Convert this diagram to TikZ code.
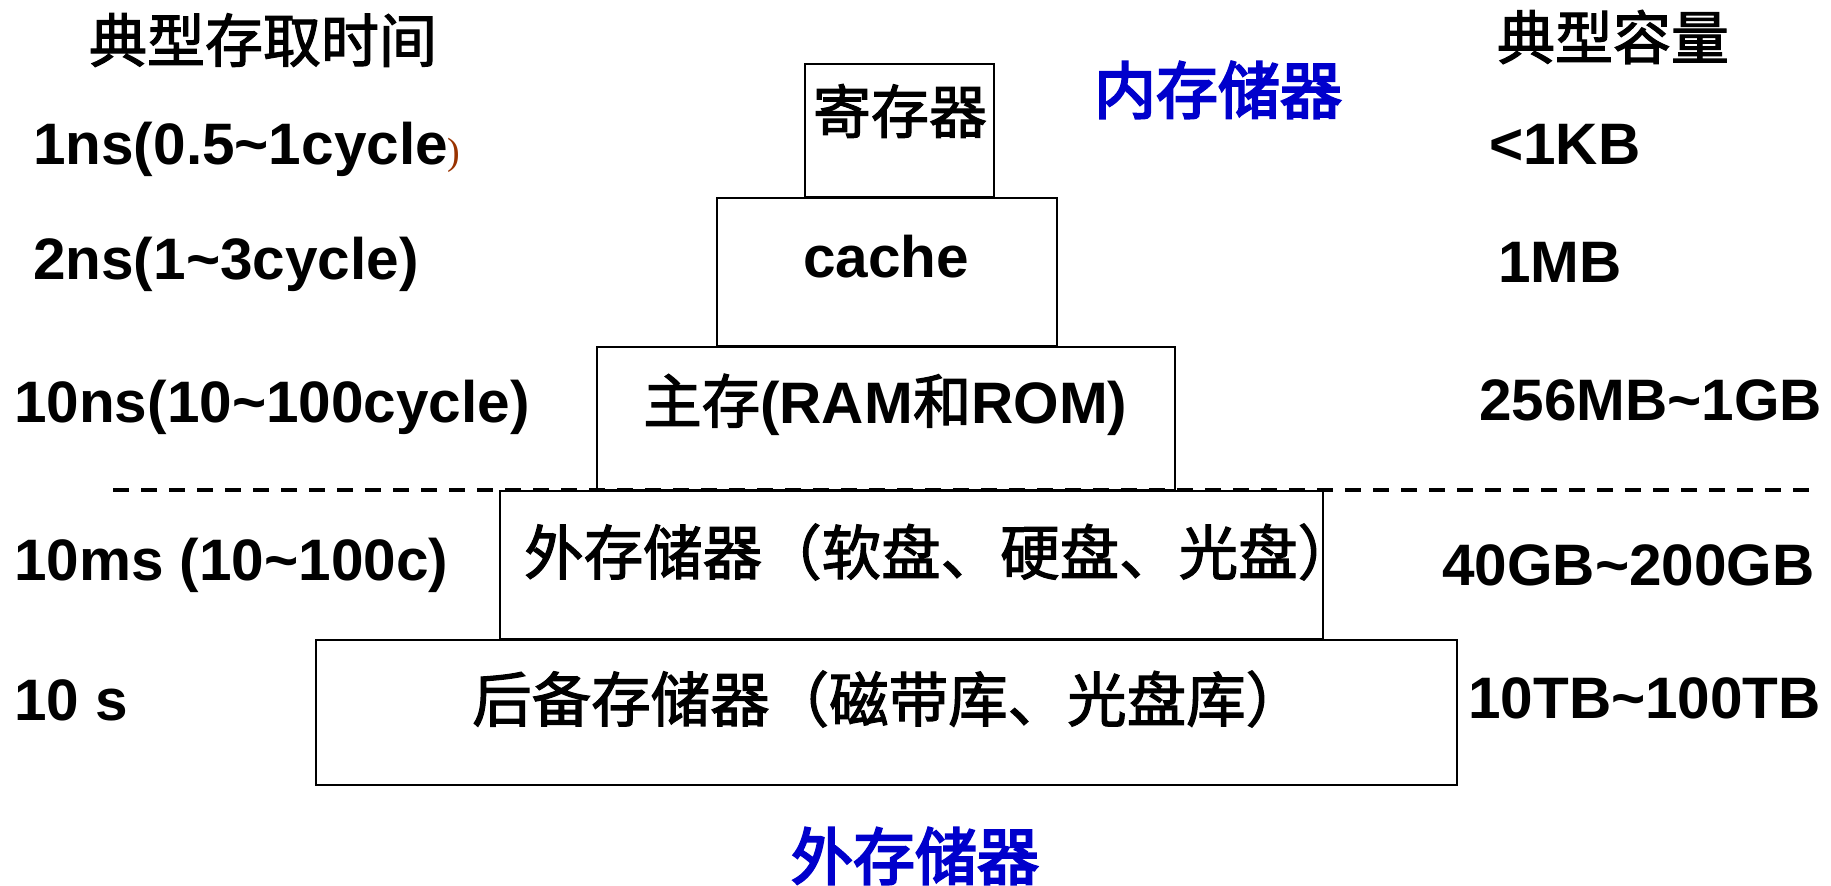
\documentclass[tikz,border=0pt]{standalone}
\usepackage{fontspec}
\setmainfont{Liberation Sans}
\newfontfamily\cjk[FakeBold=2]{Noto Sans CJK SC}
\newfontfamily\cjkheavy[FakeBold=3.5]{Noto Sans CJK SC}
\newfontfamily\thinserif{Liberation Serif}
\definecolor{refblue}{RGB}{0,0,204}
\definecolor{refbrown}{RGB}{153,51,0}
\tikzset{
  box/.style={draw, line width=2.2pt, inner sep=0pt, outer sep=0pt},
  lat/.style={font=\fontsize{58.5}{60}\selectfont\bfseries, inner sep=0pt, anchor=base west},
  cj/.style={font=\fontsize{58}{60}\selectfont\cjk, inner sep=0pt},
  cjwide/.style={font=\fontsize{59.5}{60}\selectfont\cjk, inner sep=0pt, anchor=west},
  mix/.style={font=\fontsize{58.5}{60}\selectfont, inner sep=0pt, anchor=base west},
  bluelbl/.style={font=\fontsize{62}{64}\selectfont\cjkheavy, text=refblue, inner sep=0pt},
  dashline/.style={line width=3.8pt, dash pattern=on 16pt off 12pt}
}
\begin{document}
\begin{tikzpicture}[x=1pt,y=-1pt]
\useasboundingbox (0,0) rectangle (1831,886);
% boxes
\node[box, minimum width=189pt, minimum height=133pt] (reg) at (899.5,130.5) {};
\node[box, minimum width=340pt, minimum height=148pt] (cache) at (887,272) {};
\node[box, minimum width=578pt, minimum height=143pt] (main) at (886,418.5) {};
\node[box, minimum width=823pt, minimum height=148pt] (outer) at (911.5,565) {};
\node[box, minimum width=1141pt, minimum height=145pt] (backup) at (886.5,712.5) {};
% dashed separator
\coordinate (dashL) at (113,490);
\coordinate (dashR) at (1810,490);
\draw[dashline] (dashL) -- (dashR);
% box labels
\node[cj] (reglbl) at (900,111) {寄存器};
\node[lat, anchor=center] (cachelbl) at (886,257) {cache};
\node[mix] (mainlbl) at (643,423) {{\cjk 主存}\textbf{(RAM}{\cjk 和}\textbf{ROM)}};
\node[cjwide] (outerlbl) at (524,552) {外存储器（软盘、硬盘、光盘）};
\node[cjwide] (backuplbl) at (472,699) {后备存储器（磁带库、光盘库）};
% headings
\node[cj] (timehead) at (263,40) {典型存取时间};
\node[cj] (caphead) at (1613,37) {典型容量};
\node[bluelbl] (inner) at (1218,90) {内存储器};
\node[bluelbl] (extern) at (915,856) {外存储器};
% access times
\node[lat] (t1) at (33,164) {1ns(0.5\textasciitilde 1cycle{\thinserif\mdseries\fontsize{38}{40}\selectfont\color{refbrown})}};
\node[lat] (t2) at (33,279) {2ns(1\textasciitilde 3cycle)};
\node[lat] (t3) at (14,422) {10ns(10\textasciitilde 100cycle)};
\node[lat] (t4) at (14,580) {10ms (10\textasciitilde 100c)};
\node[lat] (t5) at (14,720) {10 s};
% capacities
\node[lat] (c1) at (1489,164) {<1KB};
\node[lat] (c2) at (1498,282) {1MB};
\node[lat] (c3) at (1479,420) {256MB\textasciitilde 1GB};
\node[lat] (c4) at (1442,585) {40GB\textasciitilde 200GB};
\node[lat] (c5) at (1468,718) {10TB\textasciitilde 100TB};
\end{tikzpicture}
\end{document}
